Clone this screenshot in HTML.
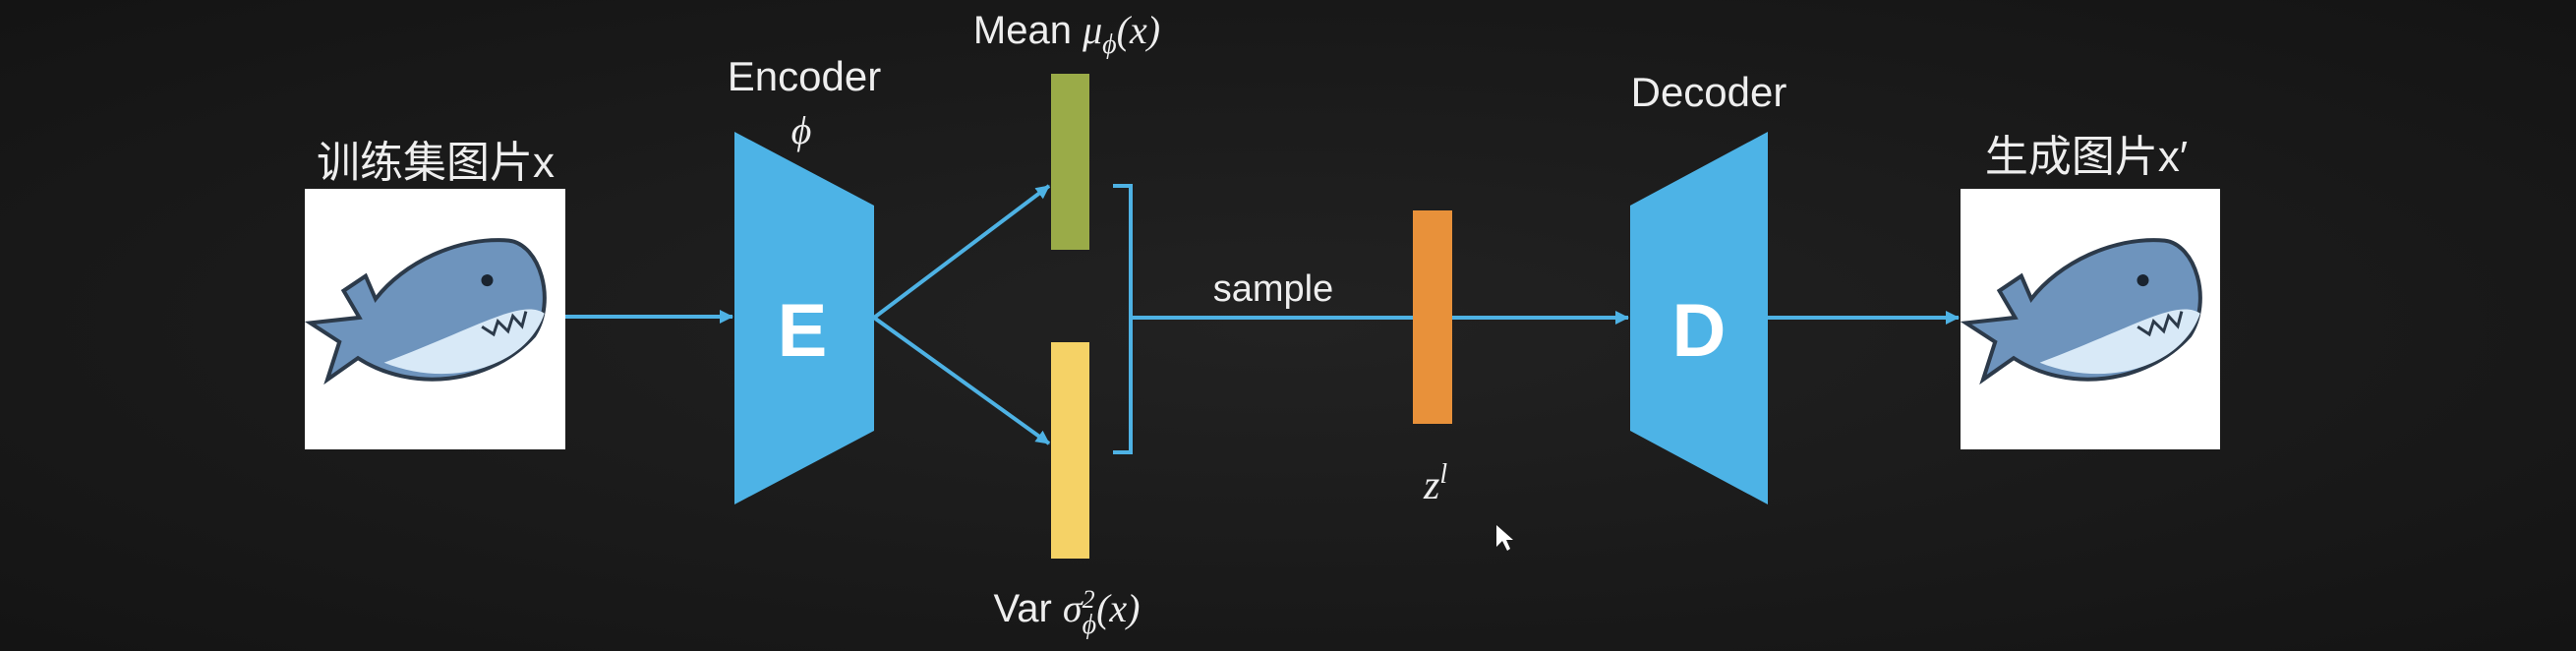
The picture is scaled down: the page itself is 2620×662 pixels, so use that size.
<!DOCTYPE html>
<html><head><meta charset="utf-8"><style>
html,body{margin:0;padding:0}
body{width:2620px;height:662px;overflow:hidden;background:#1b1b1b;position:relative;font-family:"Liberation Sans","Noto Sans CJK SC",sans-serif}
svg{position:absolute;left:0;top:0}
</style></head><body>
<svg width="2620" height="662" viewBox="0 0 2620 662">
<defs>
<radialGradient id="bg" cx="50%" cy="50%" r="70%"><stop offset="0" stop-color="#222"/><stop offset="1" stop-color="#141414"/></radialGradient>
<marker id="ah" markerWidth="14" markerHeight="14" refX="13" refY="7" orient="auto" markerUnits="userSpaceOnUse"><path d="M0,0 L14,7 L0,14 z" fill="#4eb2e4"/></marker>
<g id="shark">
<g transform="rotate(-12)">
<path d="M-125,-20 L-100,5 L-120,40 L-85,25 C-40,70 40,80 95,40 C125,10 120,-50 90,-60 C40,-75 -20,-60 -55,-30 L-60,-55 L-85,-45 L-75,-15 Z" fill="#6e94bd" stroke="#2c3a4a" stroke-width="4"/>
<path d="M-60,35 C0,75 80,70 110,20 C90,0 40,20 -60,35 Z" fill="#d8e9f7"/>
<circle cx="60" cy="-25" r="6" fill="#1a2430"/>
<path d="M45,20 L55,30 L62,18 L70,30 L78,16 L85,28 L92,14" fill="none" stroke="#2c3a4a" stroke-width="3"/>
</g>
</g>
</defs>
<rect width="2620" height="662" fill="url(#bg)"/>

<text x="443" y="180" fill="#eee" font-size="44" text-anchor="middle">训练集图片x</text>
<rect x="310" y="192" width="265" height="265" fill="#fff"/>
<use href="#shark" x="442" y="322"/>

<line x1="575" y1="322" x2="745" y2="322" stroke="#4eb2e4" stroke-width="4" marker-end="url(#ah)"/>
<polygon points="747,134 889,209 889,438 747,513" fill="#4db3e6"/>
<text x="816" y="362" fill="#fff" font-size="76" font-weight="bold" text-anchor="middle">E</text>
<text x="818" y="92" fill="#eee" font-size="42" text-anchor="middle">Encoder</text>
<text x="815" y="146" fill="#eee" font-size="40" font-style="italic" font-family="Liberation Serif,serif" text-anchor="middle">ϕ</text>

<line x1="889" y1="323" x2="1067" y2="189" stroke="#4eb2e4" stroke-width="4" marker-end="url(#ah)"/>
<line x1="889" y1="323" x2="1067" y2="451" stroke="#4eb2e4" stroke-width="4" marker-end="url(#ah)"/>

<rect x="1069" y="75" width="39" height="179" fill="#9aab48"/>
<rect x="1069" y="348" width="39" height="220" fill="#f5d266"/>
<text x="1085" y="44" fill="#eee" font-size="40" text-anchor="middle">Mean <tspan font-family="Liberation Serif,serif" font-style="italic">μ<tspan font-size="28" dy="10">ϕ</tspan><tspan dy="-10">(x)</tspan></tspan></text>
<text x="1085" y="632" fill="#eee" font-size="40" text-anchor="middle">Var <tspan font-family="Liberation Serif,serif" font-style="italic">σ<tspan font-size="26" dy="-14">2</tspan><tspan font-size="28" dx="-13" dy="26">ϕ</tspan><tspan dy="-12">(x)</tspan></tspan></text>

<path d="M1132,189 L1150,189 L1150,460 L1132,460" fill="none" stroke="#4eb2e4" stroke-width="4"/>
<line x1="1150" y1="323" x2="1437" y2="323" stroke="#4eb2e4" stroke-width="4"/>
<text x="1295" y="306" fill="#eee" font-size="38" text-anchor="middle">sample</text>

<rect x="1437" y="214" width="40" height="217" fill="#e8913a"/>
<text x="1448" y="507" fill="#eee" font-size="42" font-style="italic" font-family="Liberation Serif,serif">z<tspan font-size="28" dy="-16">l</tspan></text>

<line x1="1477" y1="323" x2="1656" y2="323" stroke="#4eb2e4" stroke-width="4" marker-end="url(#ah)"/>
<polygon points="1658,209 1798,134 1798,513 1658,438" fill="#4db3e6"/>
<text x="1728" y="362" fill="#fff" font-size="76" font-weight="bold" text-anchor="middle">D</text>
<text x="1738" y="108" fill="#eee" font-size="42" text-anchor="middle">Decoder</text>

<line x1="1798" y1="323" x2="1992" y2="323" stroke="#4eb2e4" stroke-width="4" marker-end="url(#ah)"/>
<text x="2122" y="174" fill="#eee" font-size="44" text-anchor="middle">生成图片x′</text>
<rect x="1994" y="192" width="264" height="265" fill="#fff"/>
<use href="#shark" x="2126" y="322"/>

<path d="M1522,534 L1522,556 L1528,550 L1533,560 L1536,558 L1532,549 L1539,549 Z" fill="#fff"/>
</svg>
</body></html>
